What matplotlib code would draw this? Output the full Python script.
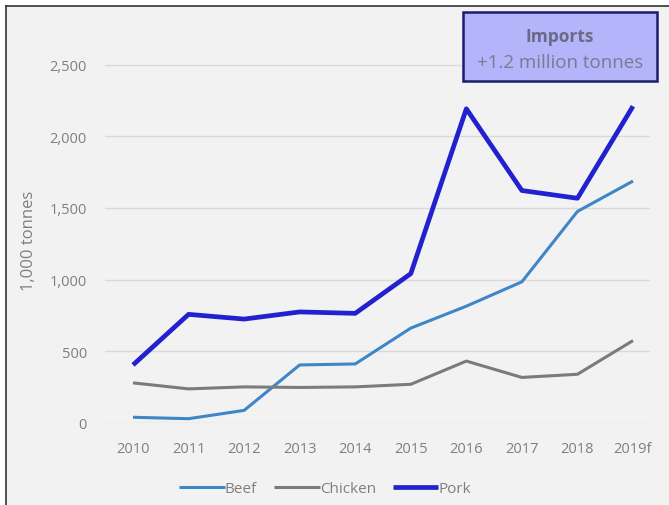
import matplotlib
matplotlib.use("Agg")
import matplotlib.pyplot as plt
from matplotlib.lines import Line2D
from matplotlib.patches import Rectangle

years = ["2010", "2011", "2012", "2013", "2014", "2015", "2016", "2017", "2018", "2019f"]
beef = [40, 30, 88, 405, 412, 662, 815, 985, 1476, 1688]
chicken = [280, 238, 252, 248, 252, 270, 432, 318, 340, 575]
pork = [405, 758, 725, 775, 765, 1042, 2192, 1622, 1568, 2210]
yticks = [0, 500, 1000, 1500, 2000, 2500]
ytick_labels = ["0", "500", "1,000", "1,500", "2,000", "2,500"]

plt.rcParams['font.family'] = ['Open Sans', 'DejaVu Sans']

W, H = 669, 506
fig = plt.figure(figsize=(W / 100, H / 100), dpi=100)
fig.patch.set_facecolor("white")

# framed light-grey background
bg = Rectangle((6 / W, 0), 1 - 6 / W, 1 - 7 / H, transform=fig.transFigure,
               facecolor="#f2f2f2", edgecolor="none", zorder=-10)
fig.patches.append(bg)
fig.add_artist(Line2D([6 / W, 1], [1 - 7 / H, 1 - 7 / H], color="#333333", lw=1.2,
                      transform=fig.transFigure))
fig.add_artist(Line2D([6 / W, 6 / W], [0, 1 - 7 / H], color="#333333", lw=1.2,
                      transform=fig.transFigure))

left, right = 105 / W, 650 / W
bottom, top = (H - 424) / H, (H - 37) / H
ax = fig.add_axes([left, bottom, right - left, top - bottom])
ax.set_facecolor("none")

x = list(range(len(years)))
ax.plot(x, beef, color="#3f86c8", lw=2.2, label="Beef", solid_capstyle="butt")
ax.plot(x, chicken, color="#7b7b7b", lw=2.2, label="Chicken", solid_capstyle="butt")
ax.plot(x, pork, color="#2121d0", lw=3.4, label="Pork", solid_capstyle="butt")

ax.set_xlim(-0.504, 9.306)
ax.set_ylim(0, 2700)
ax.set_yticks(yticks)
ax.set_yticklabels(ytick_labels)
ax.set_xticks(x)
ax.set_xticklabels(years)
ax.grid(axis="y", color="#d9d9d9", lw=1)
ax.set_axisbelow(True)
for s in ax.spines.values():
    s.set_visible(False)
ax.tick_params(axis="both", length=0, colors="#7f7f7f", labelsize=10.5)
ax.tick_params(axis="y", pad=13)
ax.tick_params(axis="x", pad=13)
fig.text(29 / W, 1 - 241 / H, "1,000 tonnes", rotation=90, ha="center", va="center",
         color="#7f7f7f", fontsize=12)

leg = ax.legend(loc="center", bbox_to_anchor=((325 - 105) / (650 - 105), (424 - 490) / (424 - 37)),
                ncol=3, frameon=False, fontsize=11, handlelength=3.0, handletextpad=0.0,
                columnspacing=1.1)
for t in leg.get_texts():
    t.set_color("#7f7f7f")

# Imports box
box = Rectangle((463 / W, 1 - 82 / H), (657 - 463) / W, (82 - 13) / H,
                transform=fig.transFigure, facecolor="#b4b4fa", edgecolor="#1c1c70", lw=1.8)
fig.patches.append(box)
fig.text(560 / W, 1 - 37 / H, "Imports", ha="center", va="center", fontsize=12.5,
         fontweight="bold", color="#6a6a86")
fig.text(560 / W, 1 - 63 / H, "+1.2 million tonnes", ha="center", va="center", fontsize=13.5,
         color="#7a7a92")

fig.savefig("out.png", dpi=100)
